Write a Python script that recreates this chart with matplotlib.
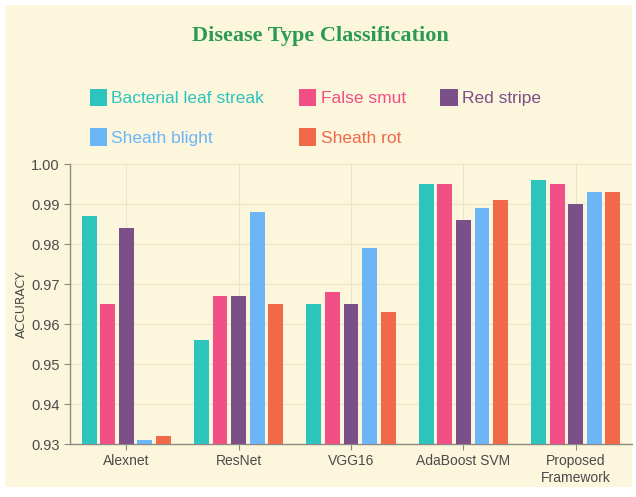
import numpy as np
import matplotlib.pyplot as plt
from matplotlib.patches import Rectangle, Patch

# datos
models = ["Alexnet", "ResNet", "VGG16", "AdaBoost SVM", "Proposed\nFramework"]
diseases = ["Bacterial leaf streak", "False smut", "Red stripe", "Sheath blight", "Sheath rot"]
bacterial = [0.987, 0.956, 0.965, 0.995, 0.996]
false_smut = [0.965, 0.967, 0.968, 0.995, 0.995]
red_stripe = [0.984, 0.967, 0.965, 0.986, 0.990]
sheath_blight = [0.931, 0.988, 0.979, 0.989, 0.993]
sheath_rot = [0.932, 0.965, 0.963, 0.991, 0.993]
yticks = [0.93, 0.94, 0.95, 0.96, 0.97, 0.98, 0.99, 1.00]

colors = ["#2ec4be", "#f14f86", "#7b5088", "#6cb6f7", "#f2694a"]
bg = "#fcf6dd"

fig = plt.figure(figsize=(6.36, 4.97), dpi=100, facecolor="white")
fig.patches.append(Rectangle((5 / 636, 10 / 497), 627 / 636, 482 / 497,
                             transform=fig.transFigure, facecolor=bg,
                             edgecolor="none", zorder=-10))

ax = fig.add_axes([70 / 636, 53 / 497, 562 / 636, 280 / 497])
ax.set_facecolor(bg)

x = np.arange(len(models))
pitch = 0.165
width = 0.132
series = [bacterial, false_smut, red_stripe, sheath_blight, sheath_rot]
for i, vals in enumerate(series):
    ax.bar(x + (i - 2) * pitch, np.array(vals) - 0.93, width, bottom=0.93,
           color=colors[i], zorder=3)

ax.set_xlim(-0.5, 4.5)
ax.set_ylim(0.93, 1.0)
ax.set_yticks(yticks)
ax.set_yticklabels([f"{t:.2f}" for t in yticks])
ax.set_xticks(x)
ax.set_xticklabels(models)
ax.grid(True, color="#ebe4c8", linewidth=0.8, zorder=0)
for s in ["top", "right"]:
    ax.spines[s].set_visible(False)
for s in ["left", "bottom"]:
    ax.spines[s].set_color("#8a8a80")
    ax.spines[s].set_linewidth(1)
ax.tick_params(axis="both", colors="#8a8a80", length=4, labelcolor="#4a4a4a",
               labelsize=10.5)
ax.tick_params(axis="x", labelsize=10)
for lab in ax.get_xticklabels() + ax.get_yticklabels():
    lab.set_family("Liberation Sans")
ax.set_ylabel("ACCURACY", fontsize=9, color="#4a4a4a", labelpad=2)

fig.text(0.503, 0.928, "Disease Type Classification", ha="center", va="center",
         fontsize=16, fontweight="bold", color="#2b9a55", family="Liberation Serif")

# leyenda en filas: reordenar para el llenado por columnas
order = [0, 3, 1, 4, 2]
handles = [Patch(facecolor=colors[i]) for i in order]
labels = [diseases[i] for i in order]
fig.legend(handles, labels, ncol=3, loc="upper left",
           bbox_to_anchor=(74 / 636, 1 - 73 / 497), frameon=False,
           prop={"family": "Liberation Sans", "size": 12.5},
           labelcolor=[colors[i] for i in order], handlelength=1.0, handleheight=1.2,
           handletextpad=0.25, columnspacing=2.0, labelspacing=1.25)

plt.savefig("out.png", dpi=100, facecolor="white")
